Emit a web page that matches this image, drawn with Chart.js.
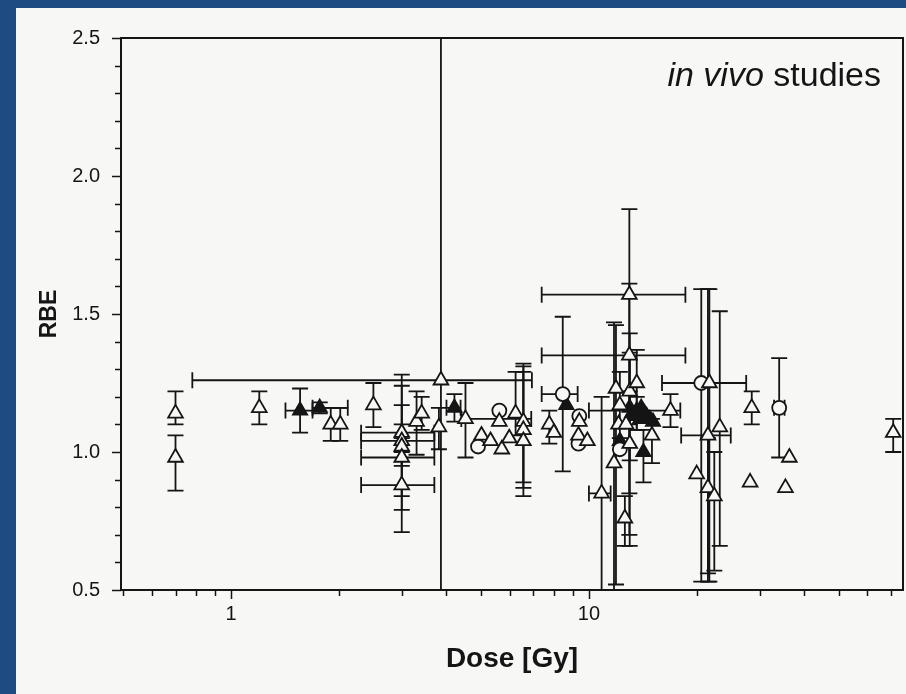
<!DOCTYPE html>
<html>
<head>
<meta charset="utf-8">
<script src="https://cdn.jsdelivr.net/npm/chart.js@4"></script>
<style>
  html, body { margin: 0; padding: 0; background: #1e4b82; }
  canvas { display: block; }
</style>
</head>
<body>
<canvas id="rbe-chart" width="906" height="694"></canvas>
<script>
// rows: [dose, rbe, rbeLow, rbeHigh, doseLow, doseHigh] (null = no error bar)
var openTriangles = [
  [0.70, 1.14, 1.10, 1.22, null, null],
  [0.70, 0.98, 0.86, 1.06, null, null],
  [1.20, 1.16, 1.10, 1.22, null, null],
  [1.90, 1.10, 1.04, 1.16, null, null],
  [2.02, 1.10, 1.04, 1.16, null, null],
  [2.50, 1.17, 1.09, 1.25, null, null],
  [3.00, 1.07, 1.00, 1.28, 2.31, 3.70],
  [3.00, 1.04, 0.84, 1.24, 2.31, 3.70],
  [3.00, 1.02, 0.95, 1.10, null, null],
  [3.00, 0.98, 0.79, 1.17, 2.31, 3.70],
  [3.00, 0.88, 0.71, 1.05, 2.31, 3.70],
  [3.30, 1.11, 0.99, 1.22, null, null],
  [3.41, 1.14, 1.08, 1.20, null, null],
  [3.81, 1.09, 1.01, 1.16, null, null],
  [3.86, 1.26, 0.40, 2.60, 0.78, 6.93],
  [4.52, 1.12, 0.98, 1.25, 4.40, 6.90],
  [5.01, 1.06, null, null, null, null],
  [5.31, 1.04, null, null, null, null],
  [5.62, 1.11, null, null, null, null],
  [5.71, 1.01, null, null, null, null],
  [5.99, 1.05, null, null, null, null],
  [6.24, 1.14, 1.06, 1.29, null, null],
  [6.56, 1.11, 0.84, 1.32, null, null],
  [6.56, 1.08, 0.87, 1.31, null, null],
  [6.56, 1.04, 0.89, 1.29, null, null],
  [7.75, 1.10, 1.03, 1.15, null, null],
  [7.98, 1.07, null, null, null, null],
  [9.40, 1.11, null, null, null, null],
  [9.35, 1.06, null, null, null, null],
  [9.90, 1.04, null, null, null, null],
  [10.85, 0.85, 0.40, 1.20, 10.0, 11.5],
  [11.75, 0.96, 0.40, 1.47, null, null],
  [11.90, 1.23, 0.52, 1.46, null, null],
  [12.20, 1.17, 1.05, 1.29, null, null],
  [12.10, 1.10, null, null, null, null],
  [12.70, 1.10, null, null, null, null],
  [13.00, 1.03, 0.66, 1.36, null, null],
  [12.97, 1.57, 0.85, 1.88, 7.38, 18.6],
  [12.97, 1.35, 0.70, 1.61, 7.38, 18.6],
  [13.00, 1.22, 0.97, 1.43, null, null],
  [13.60, 1.25, 1.08, 1.37, null, null],
  [12.60, 0.76, 0.66, 0.84, null, null],
  [15.00, 1.06, 0.96, 1.12, null, null],
  [16.90, 1.15, 1.09, 1.21, null, null],
  [21.70, 1.25, 0.53, 1.59, 16.0, 27.5],
  [20.00, 0.92, null, null, null, null],
  [21.50, 1.06, 0.53, 1.59, 18.1, 24.9],
  [21.50, 0.87, 0.56, 1.05, null, null],
  [22.40, 0.84, 0.57, 1.00, null, null],
  [23.20, 1.09, 0.66, 1.51, null, null],
  [28.50, 1.16, 1.10, 1.22, null, null],
  [28.20, 0.89, null, null, null, null],
  [36.30, 0.98, null, null, null, null],
  [35.40, 0.87, null, null, null, null],
  [70.80, 1.07, 1.00, 1.12, null, null]
];

var filledTriangles = [
  [1.56, 1.15, 1.07, 1.23, 1.42, 1.69],
  [1.77, 1.16, 1.14, 1.18, 1.69, 2.12],
  [4.21, 1.16, 1.11, 1.21, 4.00, 4.38],
  [8.65, 1.17, null, null, null, null],
  [13.0, 1.16, 1.10, 1.22, null, null],
  [13.2, 1.14, null, null, null, null],
  [13.4, 1.13, null, null, null, null],
  [13.6, 1.15, 1.08, 1.20, 10.0, 18.0],
  [13.9, 1.12, null, null, null, null],
  [14.0, 1.16, null, null, null, null],
  [14.3, 1.14, null, null, null, null],
  [14.5, 1.13, null, null, null, null],
  [14.8, 1.12, null, null, null, null],
  [15.1, 1.11, null, null, null, null],
  [14.2, 1.00, 0.89, 1.08, null, null],
  [12.2, 1.04, null, null, null, null]
];

var openCircles = [
  [4.90, 1.02, null, null, null, null],
  [5.62, 1.15, null, null, null, null],
  [8.45, 1.21, 0.93, 1.49, 7.38, 9.30],
  [9.40, 1.13, null, null, null, null],
  [9.35, 1.03, null, null, null, null],
  [12.2, 1.01, null, null, null, null],
  [20.6, 1.25, 0.53, 1.59, null, null],
  [34.0, 1.16, 0.98, 1.34, 32.9, 35.2]
];

var doseTicks = [0.5, 0.6, 0.7, 0.8, 0.9, 1, 2, 3, 4, 5, 6, 7, 8, 9, 10, 20, 30, 40, 50, 60, 70];
var doseLabels = [1, 10];
var rbeLabels = [0.5, 1.0, 1.5, 2.0, 2.5];

var paper = '#f7f7f6';
var ink = '#151515';
var font = '"Liberation Sans", Arial, sans-serif';

function toPoints(rows) {
  return rows.map(function (r) {
    return { x: r[0], y: r[1], yMin: r[2], yMax: r[3], xMin: r[4], xMax: r[5] };
  });
}

// blue frame + paper sheet
var paperPlugin = {
  id: 'paper',
  beforeDraw: function (chart) {
    var c = chart.ctx;
    c.save();
    c.fillStyle = '#1e4b82';
    c.fillRect(0, 0, chart.width, chart.height);
    c.fillStyle = paper;
    c.fillRect(16, 8, chart.width - 16, chart.height - 8);
    c.restore();
  }
};

// error bars under the markers, frame + ticks + note on top
var errorBarPlugin = {
  id: 'errorBars',
  beforeDatasetsDraw: function (chart) {
    var c = chart.ctx, a = chart.chartArea;
    var xs = chart.scales.x, ys = chart.scales.y;
    var cap = 8;
    c.save();
    c.beginPath();
    c.rect(a.left, a.top, a.right - a.left, a.bottom - a.top);
    c.clip();
    c.strokeStyle = ink;
    c.lineWidth = 1.8;
    chart.data.datasets.forEach(function (ds) {
      ds.data.forEach(function (p) {
        var px = xs.getPixelForValue(p.x), py = ys.getPixelForValue(p.y);
        c.beginPath();
        if (p.yMin !== null) {
          var y1 = ys.getPixelForValue(p.yMin), y2 = ys.getPixelForValue(p.yMax);
          c.moveTo(px, y1); c.lineTo(px, y2);
          c.moveTo(px - cap, y1); c.lineTo(px + cap, y1);
          c.moveTo(px - cap, y2); c.lineTo(px + cap, y2);
        }
        if (p.xMin !== null) {
          var x1 = xs.getPixelForValue(p.xMin), x2 = xs.getPixelForValue(p.xMax);
          c.moveTo(x1, py); c.lineTo(x2, py);
          c.moveTo(x1, py - cap); c.lineTo(x1, py + cap);
          c.moveTo(x2, py - cap); c.lineTo(x2, py + cap);
        }
        c.stroke();
      });
    });
    c.restore();
  },
  afterDraw: function (chart) {
    var c = chart.ctx, a = chart.chartArea;
    var xs = chart.scales.x, ys = chart.scales.y;
    c.save();
    c.strokeStyle = ink;
    c.lineWidth = 2;
    c.strokeRect(a.left, a.top, a.right - a.left, a.bottom - a.top);
    c.lineWidth = 1.5;
    c.beginPath();
    // y ticks every 0.1, longer at labels
    for (var v = 0.5; v <= 2.501; v += 0.1) {
      var py = Math.round(ys.getPixelForValue(v)) + 0.5;
      var major = Math.abs(v * 2 - Math.round(v * 2)) < 0.01;
      c.moveTo(a.left - (major ? 9 : 6), py); c.lineTo(a.left, py);
    }
    doseTicks.forEach(function (d) {
      var px = Math.round(xs.getPixelForValue(d)) + 0.5;
      var major = doseLabels.indexOf(d) >= 0;
      c.moveTo(px, a.bottom); c.lineTo(px, a.bottom + (major ? 9 : 6));
    });
    c.stroke();
    // annotation
    c.fillStyle = ink;
    c.textBaseline = 'alphabetic';
    c.font = '34px ' + font;
    var tail = ' studies';
    var w2 = c.measureText(tail).width;
    c.textAlign = 'left';
    c.fillText(tail, 881 - w2, 86);
    c.font = 'italic 34px ' + font;
    c.textAlign = 'right';
    c.fillText('in vivo', 881 - w2, 86);
    c.restore();
  }
};

var ctx = document.getElementById('rbe-chart').getContext('2d');
var rbeChart = new Chart(ctx, {
  type: 'scatter',
  data: {
    datasets: [{
      label: 'open triangles',
      data: toPoints(openTriangles),
      pointStyle: 'triangle',
      radius: 8.5,
      borderWidth: 1.8,
      borderColor: ink,
      backgroundColor: paper
    }, {
      label: 'open circles',
      data: toPoints(openCircles),
      pointStyle: 'circle',
      radius: 7,
      borderWidth: 1.8,
      borderColor: ink,
      backgroundColor: paper
    }, {
      label: 'filled triangles',
      data: toPoints(filledTriangles),
      pointStyle: 'triangle',
      radius: 8.5,
      borderWidth: 1.5,
      borderColor: ink,
      backgroundColor: ink
    }]
  },
  options: {
    responsive: false,
    devicePixelRatio: 1,
    animation: false,
    layout: { autoPadding: false, padding: { left: 0, right: 3, top: 38, bottom: 0 } },
    plugins: { legend: { display: false }, tooltip: { enabled: false } },
    scales: {
      x: {
        type: 'logarithmic',
        min: 0.493,
        max: 75.4,
        afterBuildTicks: function (scale) {
          scale.ticks = doseTicks.map(function (d) { return { value: d }; });
        },
        afterFit: function (scale) {
          scale.height = 104;
          scale.paddingLeft = 0;
          scale.paddingRight = 0;
        },
        grid: { display: false },
        border: { display: false },
        ticks: {
          autoSkip: false,
          maxRotation: 0,
          padding: 4,
          color: ink,
          font: { family: font, size: 20 },
          callback: function (v) { return doseLabels.indexOf(v) >= 0 ? String(v) : ''; }
        },
        title: {
          display: true,
          text: 'Dose [Gy]',
          color: ink,
          padding: { top: 0, bottom: 18 },
          font: { family: font, size: 28, weight: 'bold' }
        }
      },
      y: {
        min: 0.5,
        max: 2.5,
        afterBuildTicks: function (scale) {
          scale.ticks = rbeLabels.map(function (r) { return { value: r }; });
        },
        afterFit: function (scale) {
          scale.width = 121;
          scale.paddingTop = 0;
          scale.paddingBottom = 0;
        },
        grid: { display: false },
        border: { display: false },
        ticks: {
          padding: 13,
          color: ink,
          font: { family: font, size: 20 },
          callback: function (v) { return v.toFixed(1); }
        },
        title: {
          display: true,
          text: 'RBE',
          color: ink,
          padding: { top: 36, bottom: 0 },
          font: { family: font, size: 23, weight: 'bold' }
        }
      }
    }
  },
  plugins: [paperPlugin, errorBarPlugin]
});
</script>
</body>
</html>
